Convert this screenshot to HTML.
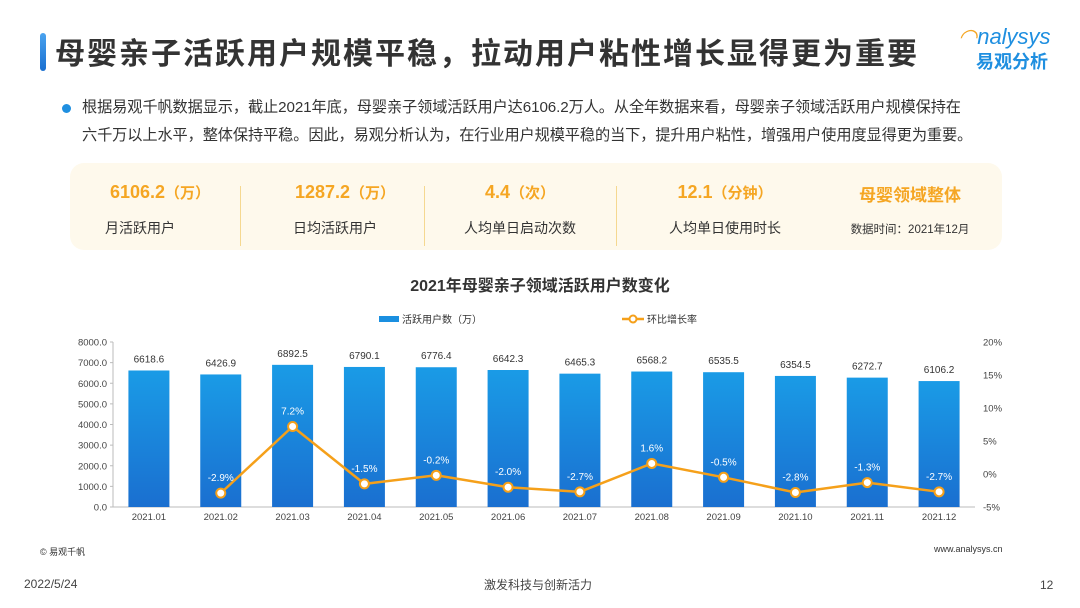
<!DOCTYPE html>
<html><head><meta charset="utf-8"><style>
body{margin:0;width:1080px;height:608px;background:#fff;font-family:"Liberation Sans","Noto Sans CJK SC",sans-serif;position:relative;overflow:hidden}
.abs{position:absolute}
</style></head><body>
<div class="abs" style="left:40px;top:33px;width:6px;height:38px;border-radius:3px;background:linear-gradient(#4aa3ef,#1a6fd0)"></div>
<div class="abs" style="left:55px;top:29px;font-size:30px;font-weight:bold;color:#333;letter-spacing:2px;white-space:nowrap">母婴亲子活跃用户规模平稳，拉动用户粘性增长显得更为重要</div>
<div class="abs" style="left:958px;top:24px;color:#1f8fe0;font-size:22px;font-style:italic">
<span style="color:#f5a623">◠</span>nalysys<div style="font-size:18px;font-style:normal;font-weight:bold;margin-left:18px;margin-top:-2px">易观分析</div></div>
<div class="abs" style="left:62px;top:104px;width:9px;height:9px;border-radius:50%;background:#1f8fe0"></div>
<div class="abs" style="left:82px;top:94px;width:930px;font-size:15.2px;line-height:28px;color:#333;letter-spacing:-0.1px">根据易观千帆数据显示，截止2021年底，母婴亲子领域活跃用户达6106.2万人。从全年数据来看，母婴亲子领域活跃用户规模保持在<br>六千万以上水平，整体保持平稳。因此，易观分析认为，在行业用户规模平稳的当下，提升用户粘性，增强用户使用度显得更为重要。</div>
<div class="abs" style="left:70px;top:163px;width:932px;height:87px;border-radius:14px;background:#fef9ec"></div>
<div>
<div class="abs" style="left:80px;top:182px;width:160px;text-align:center;font-size:18px;font-weight:bold;color:#f5a623">6106.2<span style="font-size:15px">（万）</span></div>
<div class="abs" style="left:80px;top:218px;width:120px;text-align:center;font-size:14px;color:#333">月活跃用户</div>
<div class="abs" style="left:240px;top:186px;width:1px;height:60px;background:#f5d890"></div>
<div class="abs" style="left:265px;top:182px;width:160px;text-align:center;font-size:18px;font-weight:bold;color:#f5a623">1287.2<span style="font-size:15px">（万）</span></div>
<div class="abs" style="left:275px;top:218px;width:120px;text-align:center;font-size:14px;color:#333">日均活跃用户</div>
<div class="abs" style="left:424px;top:186px;width:1px;height:60px;background:#f5d890"></div>
<div class="abs" style="left:460px;top:182px;width:120px;text-align:center;font-size:18px;font-weight:bold;color:#f5a623">4.4<span style="font-size:15px">（次）</span></div>
<div class="abs" style="left:460px;top:218px;width:120px;text-align:center;font-size:14px;color:#333">人均单日启动次数</div>
<div class="abs" style="left:616px;top:186px;width:1px;height:60px;background:#f5d890"></div>
<div class="abs" style="left:660px;top:182px;width:130px;text-align:center;font-size:18px;font-weight:bold;color:#f5a623">12.1<span style="font-size:15px">（分钟）</span></div>
<div class="abs" style="left:665px;top:218px;width:120px;text-align:center;font-size:14px;color:#333">人均单日使用时长</div>
<div class="abs" style="left:850px;top:181px;width:120px;text-align:center;font-size:17px;font-weight:bold;color:#f5a623">母婴领域整体</div>
<div class="abs" style="left:845px;top:221px;width:130px;text-align:center;font-size:11.5px;color:#333">数据时间：2021年12月</div>
</div>
<svg class="abs" style="left:0;top:0" width="1080" height="608" id="chart"></svg>
<div class="abs" style="left:40px;top:545px;font-size:9px;color:#333">© 易观千帆</div>
<div class="abs" style="left:934px;top:544px;font-size:9px;color:#333">www.analysys.cn</div>
<div class="abs" style="left:24px;top:577px;font-size:12px;color:#444">2022/5/24</div>
<div class="abs" style="left:484px;top:576px;font-size:12px;color:#444">激发科技与创新活力</div>
<div class="abs" style="left:1040px;top:578px;font-size:12px;color:#444">12</div>
<script>
const categories=["2021.01","2021.02","2021.03","2021.04","2021.05","2021.06","2021.07","2021.08","2021.09","2021.10","2021.11","2021.12"];
const users=[6618.6,6426.9,6892.5,6790.1,6776.4,6642.3,6465.3,6568.2,6535.5,6354.5,6272.7,6106.2];
const growth=[null,-2.9,7.2,-1.5,-0.2,-2.0,-2.7,1.6,-0.5,-2.8,-1.3,-2.7];
const leftTicks=[0,1000,2000,3000,4000,5000,6000,7000,8000];
const rightTicks=[-5,0,5,10,15,20];
const svg=document.getElementById('chart');const NS='http://www.w3.org/2000/svg';
const X0=113,X1=975,YB=507,YT=342;
const step=(X1-X0)/categories.length;
const xc=i=>X0+step*(i+0.5);
const yL=v=>YB-(v/8000)*(YB-YT);
const yR=v=>YB-((v+5)/25)*(YB-YT);
function mk(t,a,txt){const e=document.createElementNS(NS,t);for(const k in a)e.setAttribute(k,a[k]);if(txt!=null)e.textContent=txt;svg.appendChild(e);return e;}
const defs=mk('defs',{});defs.innerHTML='<linearGradient id="bg" x1="0" y1="0" x2="0" y2="1"><stop offset="0" stop-color="#1a9be6"/><stop offset="1" stop-color="#1a6fd0"/></linearGradient>';
let t=mk('text',{x:540,y:291,'text-anchor':'middle','font-size':16,'font-weight':'bold',fill:'#333'},'2021年母婴亲子领域活跃用户数变化');

let r=mk('rect',{x:379,y:316,width:20,height:6,fill:'#1a8fe0'});
t=mk('text',{x:402,y:323,'font-size':10,fill:'#333'},'活跃用户数（万）');
let l=mk('line',{x1:622,y1:319,x2:644,y2:319,stroke:'#f5a01a','stroke-width':2.5});
mk('circle',{cx:633,cy:319,r:3.5,fill:'#fff',stroke:'#f5a01a','stroke-width':2});
t=mk('text',{x:647,y:323,'font-size':10,fill:'#333'},'环比增长率');
mk('line',{x1:X0,y1:YT,x2:X0,y2:YB,stroke:'#bbb'});
mk('line',{x1:X0,y1:YB,x2:X1,y2:YB,stroke:'#bbb'});
leftTicks.forEach(v=>{t=mk('text',{x:X0-6,y:yL(v)+3.5,'text-anchor':'end','font-size':9.5,fill:'#444'},v.toFixed(1));mk('line',{x1:X0-3,y1:yL(v),x2:X0,y2:yL(v),stroke:'#bbb'});});
rightTicks.forEach(v=>{t=mk('text',{x:983,y:yR(v)+3.5,'font-size':9.5,fill:'#444'},v+'%');});
categories.forEach((c,i)=>{
 const b=mk('rect',{x:xc(i)-20.5,y:yL(users[i]),width:41,height:YB-yL(users[i]),fill:'url(#bg)'});
 
 t=mk('text',{x:xc(i),y:yL(users[i])-8,'text-anchor':'middle','font-size':10,fill:'#333'},users[i].toFixed(1));
 t=mk('text',{x:xc(i),y:YB+13,'text-anchor':'middle','font-size':9.5,fill:'#444'},c);
});
let d='';growth.forEach((g,i)=>{if(g==null)return;d+=(d?'L':'M')+xc(i)+','+yR(g);});
const p=mk('path',{d:d,fill:'none',stroke:'#f5a01a','stroke-width':2.5});
growth.forEach((g,i)=>{if(g==null)return;
 const c=mk('circle',{cx:xc(i),cy:yR(g),r:4.5,fill:'#fff',stroke:'#f5a01a','stroke-width':2});
 t=mk('text',{x:xc(i),y:yR(g)-12,'text-anchor':'middle','font-size':10,fill:'#fff'},g.toFixed(1)+'%');
});
</script>
</body></html>
